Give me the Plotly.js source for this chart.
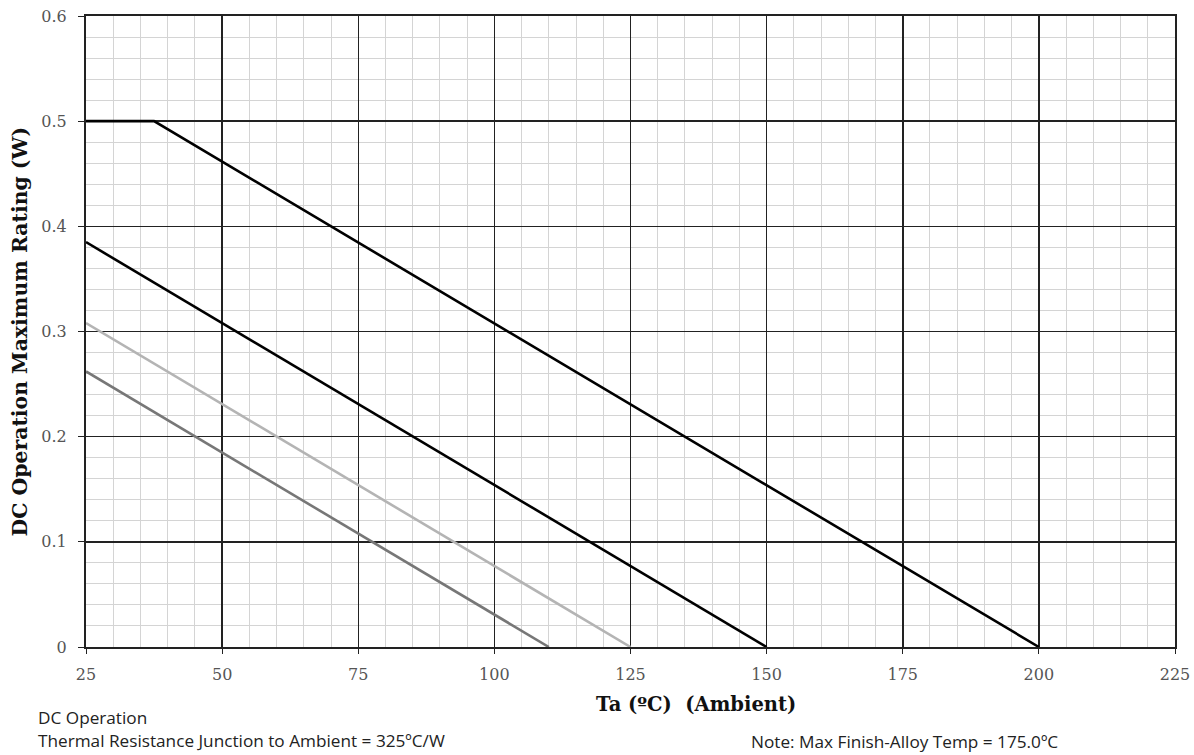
<!DOCTYPE html>
<html><head><meta charset="utf-8">
<script src="https://cdn.plot.ly/plotly-3.0.1.min.js"></script>
<style>html,body{margin:0;padding:0;background:#fff}#chart{width:1194px;height:755px}</style>
</head><body><div id="chart"></div>
<script>
// Series: DC derating curves (Ta in ºC, power in W)
const s1x = [25, 37.5, 200];
const s1y = [0.5, 0.5, 0];
const s2x = [25, 150];
const s2y = [0.385, 0];
const s3x = [25, 125];
const s3y = [0.308, 0];
const s4x = [25, 110];
const s4y = [0.262, 0];
const xTicks = [25, 50, 75, 100, 125, 150, 175, 200, 225];
const yTicks = [0, 0.1, 0.2, 0.3, 0.4, 0.5, 0.6];
const yTickText = ['0', '0.1', '0.2', '0.3', '0.4', '0.5', '0.6'];

const serif = '"DejaVu Serif", "Liberation Serif", serif';
const sans = '"Open Sans", "Noto Sans", sans-serif';

const traces = [
  {x: s1x, y: s1y, mode: 'lines', line: {color: '#000', width: 2.6}},
  {x: s2x, y: s2y, mode: 'lines', line: {color: '#000', width: 2.6}},
  {x: s3x, y: s3y, mode: 'lines', line: {color: '#b4b4b4', width: 2.6}},
  {x: s4x, y: s4y, mode: 'lines', line: {color: '#777', width: 2.6}}
];

const layout = {
  width: 1194, height: 755,
  margin: {l: 86, r: 19, t: 16, b: 108},
  showlegend: false,
  paper_bgcolor: '#fff', plot_bgcolor: '#fff',
  xaxis: {
    range: [25, 225], tickvals: xTicks, ticktext: xTicks.map(String),
    showgrid: true, gridcolor: '#222', gridwidth: 1.5,
    minor: {dtick: 5, showgrid: true, gridcolor: '#d4d4d4', gridwidth: 1},
    showline: true, linecolor: '#222', linewidth: 2, mirror: true,
    ticks: 'outside', ticklen: 5, tickcolor: '#222', tickwidth: 1,
    ticklabelstandoff: 7,
    tickfont: {family: serif, size: 16, color: '#555'},
    zeroline: false, fixedrange: true
  },
  yaxis: {
    range: [0, 0.6], tickvals: yTicks, ticktext: yTickText,
    showgrid: true, gridcolor: '#222', gridwidth: 1.5,
    minor: {dtick: 0.02, showgrid: true, gridcolor: '#d4d4d4', gridwidth: 1},
    showline: true, linecolor: '#222', linewidth: 2, mirror: true,
    ticks: 'outside', ticklen: 6, tickcolor: '#222', tickwidth: 1,
    ticklabelstandoff: 8,
    tickfont: {family: serif, size: 16, color: '#555'},
    zeroline: false, fixedrange: true
  },
  annotations: [
    {text: '<b>DC Operation Maximum Rating (W)</b>', xref: 'paper', yref: 'paper', x: -0.0615, y: 0.5, xanchor: 'center', yanchor: 'middle', textangle: -90, showarrow: false, font: {family: serif, size: 20.4, color: '#111'}},
    {text: '<b>Ta (ºC)  (Ambient)</b>', xref: 'paper', yref: 'paper', x: 0.560, y: -0.0919, xanchor: 'center', yanchor: 'middle', showarrow: false, font: {family: serif, size: 19.5, color: '#111'}},
    {text: 'DC Operation', xref: 'paper', yref: 'paper', x: -0.0455, y: -0.111, xanchor: 'left', yanchor: 'middle', showarrow: false, font: {family: sans, size: 17.2, color: '#222'}},
    {text: 'Thermal Resistance Junction to Ambient = 325ºC/W', xref: 'paper', yref: 'paper', x: -0.0455, y: -0.1474, xanchor: 'left', yanchor: 'middle', showarrow: false, font: {family: sans, size: 17.2, color: '#222'}},
    {text: 'Note: Max Finish-Alloy Temp = 175.0ºC', xref: 'paper', yref: 'paper', x: 0.6085, y: -0.1500, xanchor: 'left', yanchor: 'middle', showarrow: false, font: {family: sans, size: 17.2, color: '#222'}}
  ]
};

Plotly.newPlot('chart', traces, layout, {displayModeBar: false, staticPlot: true});
</script>
</body></html>
